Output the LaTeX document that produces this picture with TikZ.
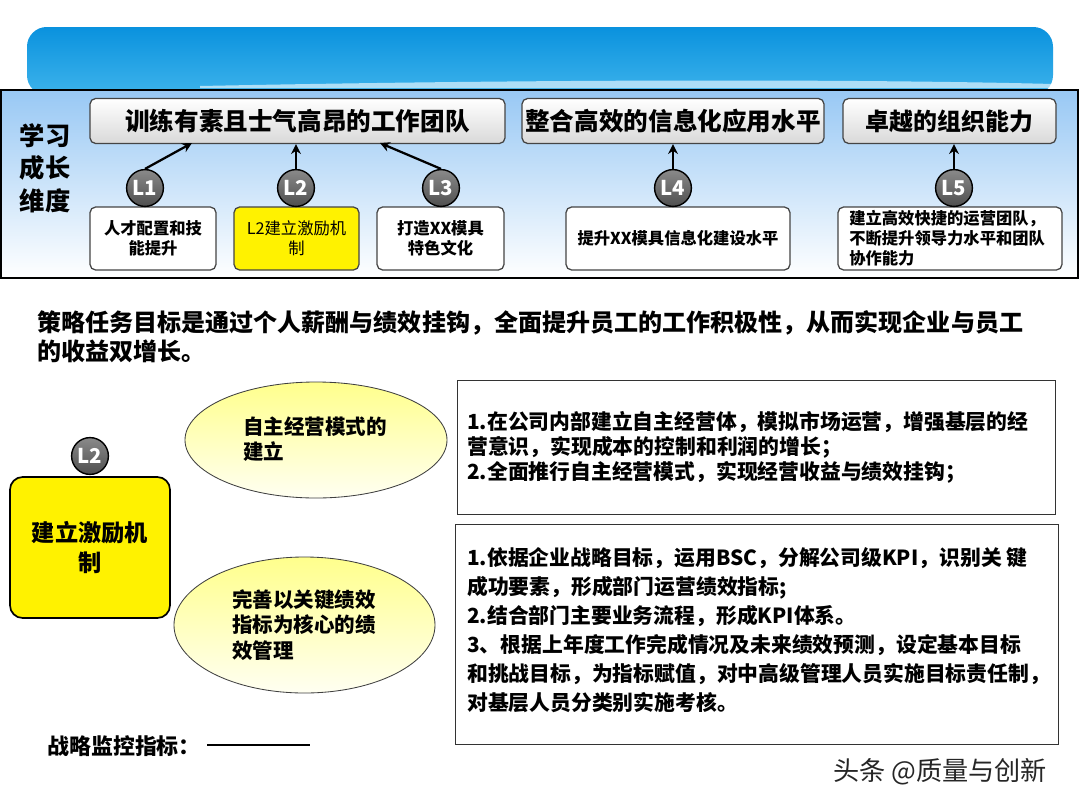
\documentclass[tikz,border=0pt]{standalone}
\usepackage{fontspec}
\setmainfont{Noto Sans CJK SC}
\usetikzlibrary{arrows.meta,shapes.geometric,calc}
\definecolor{bannerTop}{HTML}{0A92DE}
\definecolor{bannerBot}{HTML}{3DB3EB}
\definecolor{panelTop}{HTML}{98C8F4}
\definecolor{boxLine}{HTML}{444444}
\definecolor{circTop}{HTML}{8A8A8A}
\definecolor{circBot}{HTML}{4F4F4F}
\definecolor{ellTop}{HTML}{FFFF8C}
\definecolor{ellBot}{HTML}{FFFFF2}
\newcommand{\fs}[2]{\fontsize{#1}{#2}\selectfont}
\tikzset{
  x=0.025cm, y=-0.025cm,
  topbox/.style={draw=boxLine, line width=0.9pt, rounded corners=4pt,
     top color=white, bottom color=black!15, inner sep=0pt},
  smallbox/.style={draw=boxLine, line width=0.9pt, rounded corners=4pt, fill=white, inner sep=0pt},
  lcirc/.style={circle, draw=black, line width=1pt, top color=circTop, bottom color=circBot,
     minimum size=0.92cm, inner sep=0pt, text=white, font=\bfseries\fs{14.5}{14.5}},
  arr/.style={line width=1.6pt, -{Stealth[length=7pt,width=7pt]}},
  rbox/.style={draw=black!80, line width=0.7pt, fill=white, inner sep=0pt},
  ell/.style={ellipse, draw=black!75, line width=0.6pt, top color=ellTop, bottom color=ellBot, inner sep=0pt},
  txt/.style={inner sep=0pt, align=left}
}
\begin{document}
\begin{tikzpicture}
\useasboundingbox (0,0) rectangle (1080,810);
\fill[white] (0,0) rectangle (1080,810);
% banner
\shade[top color=bannerTop, bottom color=bannerBot, rounded corners=14pt]
  (27,95) -- (27,27) -- (1053,27) -- (1053,95) -- cycle;
\fill[white, opacity=0.6] (200,86) .. controls (600,78) and (900,80) .. (1053,84) -- (1053,88) -- (200,88) -- cycle;
% panel
\shade[top color=panelTop, bottom color=white] (1,90) rectangle (1078,278);
\draw[black, line width=1.6pt] (1,90) rectangle (1078,278);
\node[txt, font=\bfseries\fs{18}{23}] (dim) at (45,168) {学习\\成长\\维度};
% top boxes
\node[topbox, minimum width=415*0.025cm, minimum height=45*0.025cm, font=\bfseries\fs{17.5}{20}] (t1) at (297.5,121) {训练有素且士气高昂的工作团队};
\node[topbox, minimum width=302*0.025cm, minimum height=45*0.025cm, font=\bfseries\fs{17.5}{20}] (t2) at (673,121) {整合高效的信息化应用水平};
\node[topbox, minimum width=213*0.025cm, minimum height=45*0.025cm, font=\bfseries\fs{17}{20}] (t3) at (949.5,121) {卓越的组织能力};
% bottom small boxes
\node[smallbox, minimum width=126*0.025cm, minimum height=63*0.025cm, align=center, font=\bfseries\fs{11.6}{14.5}] (b1) at (153,238.5) {人才配置和技\\能提升};
\node[smallbox, fill=yellow, minimum width=125*0.025cm, minimum height=63*0.025cm, align=center, font=\fs{11.6}{14.5}] (b2) at (296.5,238.5) {L2建立激励机\\制};
\node[smallbox, minimum width=127*0.025cm, minimum height=63*0.025cm, align=center, font=\bfseries\fs{11.6}{14.5}] (b3) at (440.5,238.5) {打造XX模具\\特色文化};
\node[smallbox, minimum width=224*0.025cm, minimum height=63*0.025cm, align=center, font=\bfseries\fs{11.6}{14.5}] (b4) at (678,238.5) {提升XX模具信息化建设水平};
\node[smallbox, minimum width=224*0.025cm, minimum height=63*0.025cm, font=\bfseries\fs{11.6}{14.5}] (b5) at (950,238.5) {};
\node[txt, anchor=west, font=\bfseries\fs{11.6}{14.2}] (b5t) at (849,238) {建立高效快捷的运营团队，\\不断提升领导力水平和团队\\协作能力};
% circles
\node[lcirc] (c1) at (145,188) {L1};
\node[lcirc] (c2) at (296,188) {L2};
\node[lcirc] (c3) at (441,188) {L3};
\node[lcirc] (c4) at (673,188) {L4};
\node[lcirc] (c5) at (954,188) {L5};
\coordinate (a1) at (192,143);
\coordinate (a3) at (380,143);
\draw[arr] (c1.north) -- (a1);
\draw[arr] (c2.north) -- (c2 |- t1.south);
\draw[arr] (c3.north) -- (a3);
\draw[arr] (c4.north) -- (c4 |- t2.south);
\draw[arr] (c5.north) -- (c5 |- t3.south);
% paragraph
\node[txt, anchor=north west, font=\bfseries\fs{17.1}{20.6}] (para) at (37,310) {策略任务目标是通过个人薪酬与绩效挂钩，全面提升员工的工作积极性，从而实现企业与员工\\的收益双增长。};
% left yellow box
\node[draw=black, line width=1.2pt, rounded corners=9pt, fill=yellow, minimum width=160*0.025cm, minimum height=141*0.025cm, align=center, inner sep=0pt, font=\bfseries\fs{16.5}{21}] (lb) at (90,547.5) {建立激励机\\制};
\node[lcirc] (lc) at (90,456) {L2};
% ellipses
\node[ell, minimum width=262*0.025cm, minimum height=116*0.025cm] (e1) at (316,440) {};
\node[txt, anchor=west, font=\bfseries\fs{14.6}{18}] (e1t) at (243,439) {自主经营模式的\\建立};
\node[ell, minimum width=261*0.025cm, minimum height=136*0.025cm] (e2) at (304.5,625) {};
\node[txt, anchor=west, font=\bfseries\fs{14.6}{18}] (e2t) at (232,625) {完善以关键绩效\\指标为核心的绩\\效管理};
% right boxes
\node[rbox, minimum width=598*0.025cm, minimum height=134*0.025cm] (r1) at (756,447) {};
\node[txt, anchor=west, font=\bfseries\fs{14.8}{17.8}] (r1t) at (467,447) {1.在公司内部建立自主经营体，模拟市场运营，增强基层的经\\营意识，实现成本的控制和利润的增长；\\2.全面推行自主经营模式，实现经营收益与绩效挂钩；};
\node[rbox, minimum width=603*0.025cm, minimum height=220*0.025cm] (r2) at (756.5,634) {};
\node[txt, anchor=west, font=\bfseries\fs{14.8}{20.6}] (r2t) at (467,630) {1.依据企业战略目标，运用BSC，分解公司级KPI，识别关 键\\成功要素，形成部门运营绩效指标;\\2.结合部门主要业务流程，形成KPI体系。\\3、根据上年度工作完成情况及未来绩效预测，设定基本目标\\和挑战目标，为指标赋值，对中高级管理人员实施目标责任制，\\对基层人员分类别实施考核。};
% monitoring
\node[txt, anchor=west, font=\bfseries\fs{15.6}{17}] (mon) at (47,746) {战略监控指标：};
\coordinate (m2) at (310,745);
\draw[line width=1.3pt] (mon.east) ++(6,-1) -- (m2);
% watermark
\node[txt, anchor=west, font=\fs{18.6}{21}, text=black!85] (wm) at (833,772) {头条 @质量与创新};
\end{tikzpicture}
\end{document}
